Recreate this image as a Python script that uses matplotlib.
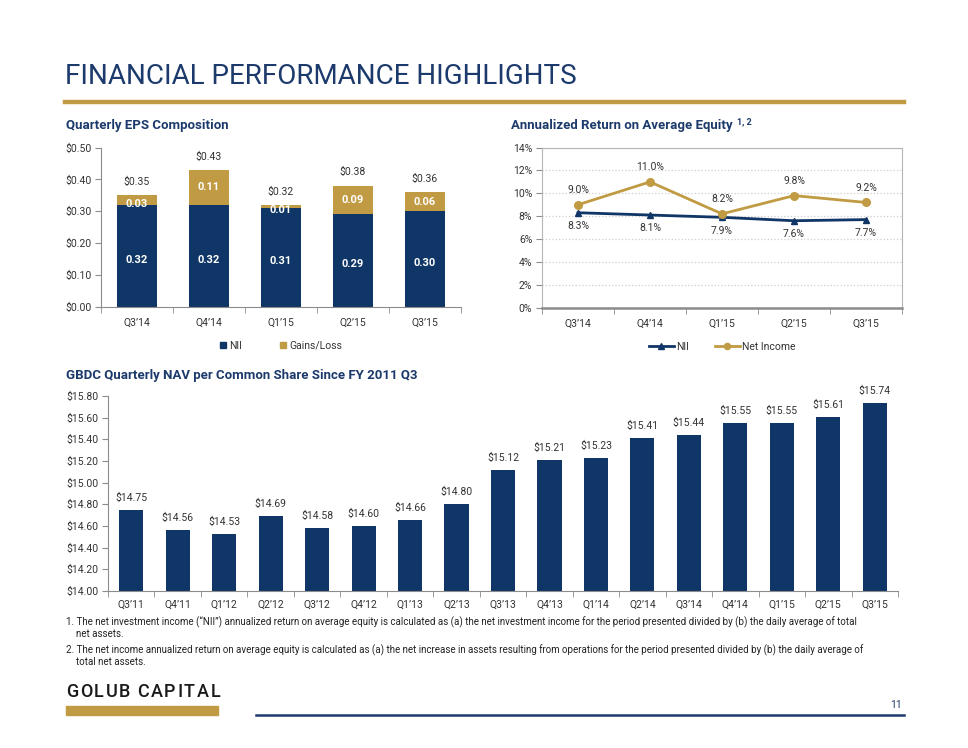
import matplotlib.pyplot as plt
from matplotlib.patches import Rectangle
from matplotlib.lines import Line2D
from matplotlib.patches import Patch

plt.rcParams['font.family'] = ['Roboto', 'DejaVu Sans']

NAVY = '#0f3666'
GOLD = '#c19b43'
TITLE = '#1c3a6b'
GRAYAX = '#8c8c8c'
TXT = '#333333'

# EPS composition
eps_quarters = ["Q3\u201914", "Q4\u201914", "Q1\u201915", "Q2\u201915", "Q3\u201915"]
eps_nii = [0.32, 0.32, 0.31, 0.29, 0.30]
eps_gains = [0.03, 0.11, 0.01, 0.09, 0.06]
eps_total = [0.35, 0.43, 0.32, 0.38, 0.36]

# annualized return on average equity (%)
roe_quarters = ["Q3\u201914", "Q4\u201914", "Q1\u201915", "Q2\u201915", "Q3\u201915"]
roe_nii = [8.3, 8.1, 7.9, 7.6, 7.7]
roe_net_income = [9.0, 11.0, 8.2, 9.8, 9.2]

# NAV per share
nav_quarters = ["Q3\u201911", "Q4\u201911", "Q1\u201912", "Q2\u201912", "Q3\u201912", "Q4\u201912",
                "Q1\u201913", "Q2\u201913", "Q3\u201913", "Q4\u201913", "Q1\u201914", "Q2\u201914",
                "Q3\u201914", "Q4\u201914", "Q1\u201915", "Q2\u201915", "Q3\u201915"]
nav_values = [14.75, 14.56, 14.53, 14.69, 14.58, 14.60, 14.66, 14.80, 15.12, 15.21,
              15.23, 15.41, 15.44, 15.55, 15.55, 15.61, 15.74]

W, H = 968, 748
fig = plt.figure(figsize=(W / 100, H / 100), dpi=100)
r = fig.canvas.get_renderer()


def px_axes(x0, y0, x1, y1):
    return fig.add_axes([x0 / W, 1 - y1 / H, (x1 - x0) / W, (y1 - y0) / H])


def fx(x):
    return x / W


def fy(y):
    return 1 - y / H


def boundary_ticks(ax, n):
    ax.set_xticks(range(n))
    ax.set_xticks([i - 0.5 for i in range(n + 1)], minor=True)
    ax.tick_params(axis='x', which='major', length=0, pad=8, labelsize=7.5, labelcolor=TXT)
    ax.tick_params(axis='x', which='minor', length=4, color=GRAYAX, direction='out')
    ax.tick_params(axis='y', length=4, color=GRAYAX, labelsize=7.5, labelcolor=TXT, pad=3)
    ax.set_xlim(-0.5, n - 0.5)


# header
fig.text(fx(65), fy(76), "FINANCIAL PERFORMANCE HIGHLIGHTS", fontsize=20,
         color=TITLE, va='center', ha='left')
fig.add_artist(Line2D([fx(65), fx(904)], [fy(101.5), fy(101.5)], color=GOLD, lw=3.2))

# ---------- EPS chart ----------
fig.text(fx(66), fy(126), "Quarterly EPS Composition", fontsize=9.5, fontweight='bold',
         color=TITLE, va='center')
ax1 = px_axes(101, 147.6, 461, 306.6)
x = range(len(eps_quarters))
ax1.bar(x, eps_nii, width=0.55, color=NAVY, label='NII')
ax1.bar(x, eps_gains, bottom=eps_nii, width=0.55, color=GOLD, label='Gains/Loss')
ax1.set_ylim(0, 0.5)
ax1.set_yticks([0, 0.1, 0.2, 0.3, 0.4, 0.5])
ax1.set_yticklabels(["$%.2f" % v for v in [0, 0.1, 0.2, 0.3, 0.4, 0.5]])
ax1.set_xticklabels(eps_quarters)
boundary_ticks(ax1, len(eps_quarters))
for s in ['top', 'right']:
    ax1.spines[s].set_visible(False)
for s in ['left', 'bottom']:
    ax1.spines[s].set_color(GRAYAX)
for i in x:
    ax1.text(i, eps_nii[i] / 2 - 0.012, "%.2f" % eps_nii[i], color='white', fontsize=8,
             fontweight='bold', ha='center', va='center')
    g = eps_gains[i]
    ax1.text(i, eps_nii[i] + g / 2 - (0.012 if g < 0.05 else 0), "%.2f" % g, color='white',
             fontsize=8, fontweight='bold', ha='center', va='center')
    ax1.annotate("$%.2f" % eps_total[i], (i, eps_total[i]), xytext=(0, 6),
                 textcoords='offset points', ha='center', va='bottom', fontsize=7.5, color=TXT)
ax1.legend(handles=[Patch(color=NAVY, label='NII'), Patch(color=GOLD, label='Gains/Loss')],
           loc='center', bbox_to_anchor=(0.5, -0.245), ncol=2, frameon=False, fontsize=7.5,
           handlelength=0.6, handleheight=0.6, handletextpad=0.3, columnspacing=3.6,
           labelcolor=TXT)

# ---------- ROE chart ----------
t = fig.text(fx(511), fy(126), "Annualized Return on Average Equity", fontsize=9.5,
             fontweight='bold', color=TITLE, va='center')
bb = t.get_window_extent(renderer=r)
fig.text(bb.x1 / W + fx(4), fy(122), "1, 2", fontsize=6.5, fontweight='bold', color=TITLE,
         va='center')

ax2 = px_axes(542, 147.6, 902, 307.6)
x = range(len(roe_quarters))
ax2.plot(x, roe_nii, color=NAVY, lw=2, marker='^', ms=5, label='NII')
ax2.plot(x, roe_net_income, color=GOLD, lw=2, marker='o', ms=5.5, label='Net Income')
ax2.set_ylim(0, 14)
ax2.set_yticks(range(0, 15, 2))
ax2.set_yticklabels(["%d%%" % v for v in range(0, 15, 2)])
ax2.set_xticklabels(roe_quarters)
boundary_ticks(ax2, len(roe_quarters))
ax2.grid(axis='y', color='#cfcfcf', ls=':', lw=0.9)
ax2.set_axisbelow(True)
for s in ['top', 'right', 'left']:
    ax2.spines[s].set_color('#b5b5b5')
ax2.spines['bottom'].set_color(GRAYAX)
ax2.spines['bottom'].set_linewidth(1.8)
for i in x:
    ax2.annotate("%.1f%%" % roe_net_income[i], (i, roe_net_income[i]), xytext=(0, 7),
                 textcoords='offset points', ha='center', va='bottom', fontsize=7.5, color=TXT)
    ax2.annotate("%.1f%%" % roe_nii[i], (i, roe_nii[i]), xytext=(0, -6),
                 textcoords='offset points', ha='center', va='top', fontsize=7.5, color=TXT)
ax2.legend(loc='center', bbox_to_anchor=(0.5, -0.245), ncol=2, frameon=False, fontsize=7.5,
           handlelength=2.4, handletextpad=0.2, columnspacing=2.5, labelcolor=TXT,
           markerscale=0.8)

# ---------- NAV chart ----------
fig.text(fx(66), fy(375), "GBDC Quarterly NAV per Common Share Since FY 2011 Q3",
         fontsize=9.5, fontweight='bold', color=TITLE, va='center')
ax3 = px_axes(108, 396, 898, 591)
x = range(len(nav_quarters))
ax3.bar(x, nav_values, width=0.52, color=NAVY, bottom=0)
ax3.set_ylim(14.0, 15.8)
yt = [14.0 + 0.2 * k for k in range(10)]
ax3.set_yticks(yt)
ax3.set_yticklabels(["$%.2f" % v for v in yt])
ax3.set_xticklabels(nav_quarters)
boundary_ticks(ax3, len(nav_quarters))
ax3.tick_params(axis='x', which='major', pad=6)
for s in ['top', 'right']:
    ax3.spines[s].set_visible(False)
for s in ['left', 'bottom']:
    ax3.spines[s].set_color(GRAYAX)
for i in x:
    ax3.annotate("$%.2f" % nav_values[i], (i, nav_values[i]), xytext=(0, 5),
                 textcoords='offset points', ha='center', va='bottom', fontsize=7.5, color=TXT)

# ---------- footnotes ----------
notes = [
    (66, 622, "1. The net investment income (\u201cNII\u201d) annualized return on average equity is "
              "calculated as (a) the net investment income for the period presented divided by (b) "
              "the daily average of total"),
    (76, 634, "net assets."),
    (66, 650, "2. The net income annualized return on average equity is calculated as (a) the net "
              "increase in assets resulting from operations for the period presented divided by (b) "
              "the daily average of"),
    (76, 662, "total net assets."),
]
for nx, ny, s in notes:
    fig.text(fx(nx), fy(ny), s, fontsize=7.05, color='#222222', va='center', ha='left')

# footer: letter-spaced company name
cx = 66
for ch in "GOLUB CAPITAL":
    tt = fig.text(fx(cx), fy(692), ch, fontsize=13, fontweight='medium', color='#1a1a1a',
                  va='center', ha='left')
    if ch == ' ':
        cx += 5
    else:
        cx += tt.get_window_extent(renderer=r).width + 1.7
fig.add_artist(Rectangle((fx(66), fy(715)), fx(218) - fx(66), fy(706) - fy(715),
                         color=GOLD, transform=fig.transFigure))
fig.add_artist(Line2D([fx(256), fx(904)], [fy(715), fy(715)], color=TITLE, lw=1.8))
fig.text(fx(902), fy(705), "11", fontsize=7.5, color=TITLE, ha='right', va='center')

fig.savefig("out.png", dpi=100)
